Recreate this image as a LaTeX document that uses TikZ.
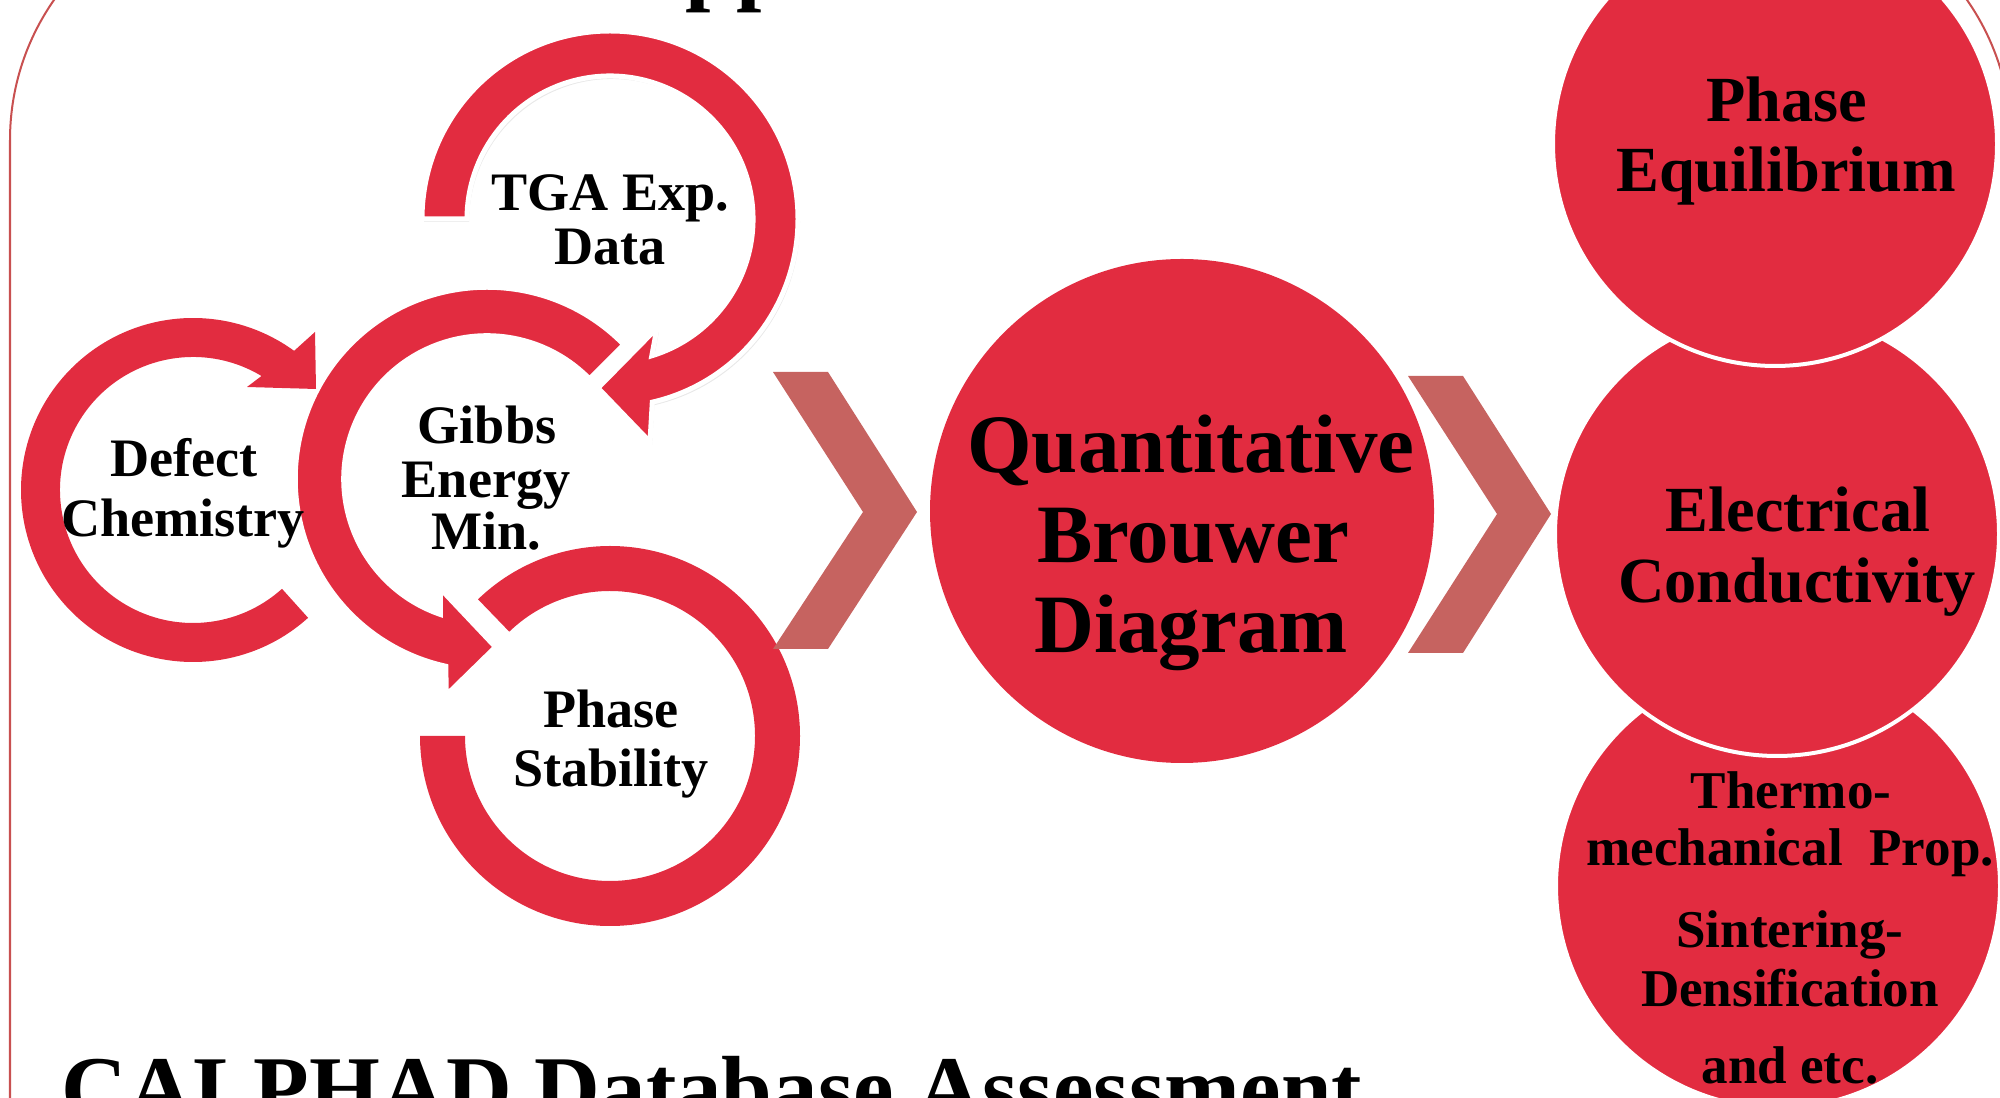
\documentclass[tikz,border=0pt]{standalone}
\usepackage{fontspec}
\setmainfont{Liberation Serif}
\usetikzlibrary{calc,shadows}

\definecolor{cyclered}{RGB}{226,44,64}
\definecolor{chevronred}{RGB}{198,99,96}
\definecolor{framered}{RGB}{200,80,80}

\begin{document}
\begin{tikzpicture}[x=0.01cm, y=-0.01cm,
        cyc/.style={fill=cyclered},
        chev/.style={fill=chevronred},
        disc/.style={fill=cyclered, draw=white, line width=0.04cm},
        ringtxt/.style={anchor=base, inner sep=0pt, font=\fontsize{15.4}{18}\selectfont\bfseries},
        bigtxt/.style={anchor=base, inner sep=0pt, font=\fontsize{23.6}{28}\selectfont\bfseries},
        sidetxt/.style={anchor=base, inner sep=0pt, font=\fontsize{18.3}{22}\selectfont\bfseries},
        smalltxt/.style={anchor=base, inner sep=0pt, font=\fontsize{15.1}{18}\selectfont\bfseries},
        headtxt/.style={anchor=base west, inner sep=0pt, font=\fontsize{25.9}{30}\selectfont\bfseries}]
        \useasboundingbox (0,0) rectangle (2000,1098);
        \clip (0,0) rectangle (2000,1098);

        % slide frame
        \draw[framered, line width=0.02cm, rounded corners=2.45cm] (10,-105) rectangle (2011,1400);

        % centres of the cycle
        \coordinate (defectc) at (193,490);
        \coordinate (gibbsc) at (487,479);
        \coordinate (tgac) at (610,219);
        \coordinate (stabc) at (610,736);

        \fill[cyc] ($(defectc)+(48:172)$) arc[start angle=48, end angle=306, radius=172]
            -- (315,332) -- (316,389) -- (247,387)
            -- ($(defectc)+(301:133)$) arc[start angle=301, end angle=48, radius=133] -- cycle;
        \fill[cyc] ($(stabc)+(180:190)$) arc[start angle=180, end angle=-134, radius=190]
            -- ($(stabc)+(-134:145)$) arc[start angle=-134, end angle=180, radius=145] -- cycle;
        \filldraw[cyc, draw=white, line width=0.015cm] ($(gibbsc)+(315:190)$) arc[start angle=315, end angle=102, radius=190]
            -- (448,691) -- (493,647) -- (442,593)
            -- ($(gibbsc)+(108:145)$) arc[start angle=108, end angle=315, radius=145] -- cycle;
        \filldraw[cyc, draw=white, line width=0.05cm,
            drop shadow={shadow xshift=0.02cm, shadow yshift=-0.03cm, fill=black!18}]
            ($(tgac)+(180:188)$) arc[start angle=180, end angle=437, radius=188]
            -- (650,442) -- (598,388) -- (657,328)
            -- ($(tgac)+(433:143)$) arc[start angle=433, end angle=180, radius=143] -- cycle;

        % chevrons
        \fill[chev] (773,372) -- (828,372) -- (917,512) -- (828,649) -- (773,649) -- (863,512) -- cycle;
        \fill[chev] (1408,376) -- (1463,376) -- (1551,514) -- (1463,653) -- (1408,653) -- (1497,514) -- cycle;

        % result discs
        \fill[cyc] (1182,511) circle[radius=252];
        \filldraw[disc] (1778,886) circle[radius=222];
        \filldraw[disc] (1777,534) circle[radius=222];
        \filldraw[disc] (1775,144) circle[radius=222];

        % labels
        \node[ringtxt] (tga1) at (610,211) {TGA Exp.};
        \node[ringtxt] (tga2) at (610,265) {Data};
        \node[ringtxt] (defect1) at (184,477) {Defect};
        \node[ringtxt] (defect2) at (183,537) {Chemistry};
        \node[ringtxt] (gibbs1) at (487,444) {Gibbs};
        \node[ringtxt] (gibbs2) at (486,498) {Energy};
        \node[ringtxt] (gibbs3) at (486,550) {Min.};
        \node[ringtxt] (stab1) at (611,728) {Phase};
        \node[ringtxt] (stab2) at (611,787) {Stability};

        \node[bigtxt] (brouwer1) at (1191,473) {Quantitative};
        \node[bigtxt] (brouwer2) at (1193,563) {Brouwer};
        \node[bigtxt] (brouwer3) at (1191,653) {Diagram};

        \node[sidetxt] (equil1) at (1787,122) {Phase};
        \node[sidetxt] (equil2) at (1786,192) {Equilibrium};
        \node[sidetxt] (cond1) at (1798,532) {Electrical};
        \node[sidetxt] (cond2) at (1797,603) {Conductivity};
        \node[smalltxt] (thermo1) at (1791,809) {Thermo-};
        \node[smalltxt] (thermo2) at (1790,866) {mechanical~~Prop.};
        \node[smalltxt] (thermo3) at (1790,948) {Sintering-};
        \node[smalltxt] (thermo4) at (1790,1006) {Densification};
        \node[smalltxt] (thermo5) at (1790,1083) {and etc.};

        \node[headtxt] (title) at (685,-6) {pp};
        \node[headtxt] (calphad) at (61,1119) {CALPHAD Database Assessment};
    \end{tikzpicture}
\end{document}
